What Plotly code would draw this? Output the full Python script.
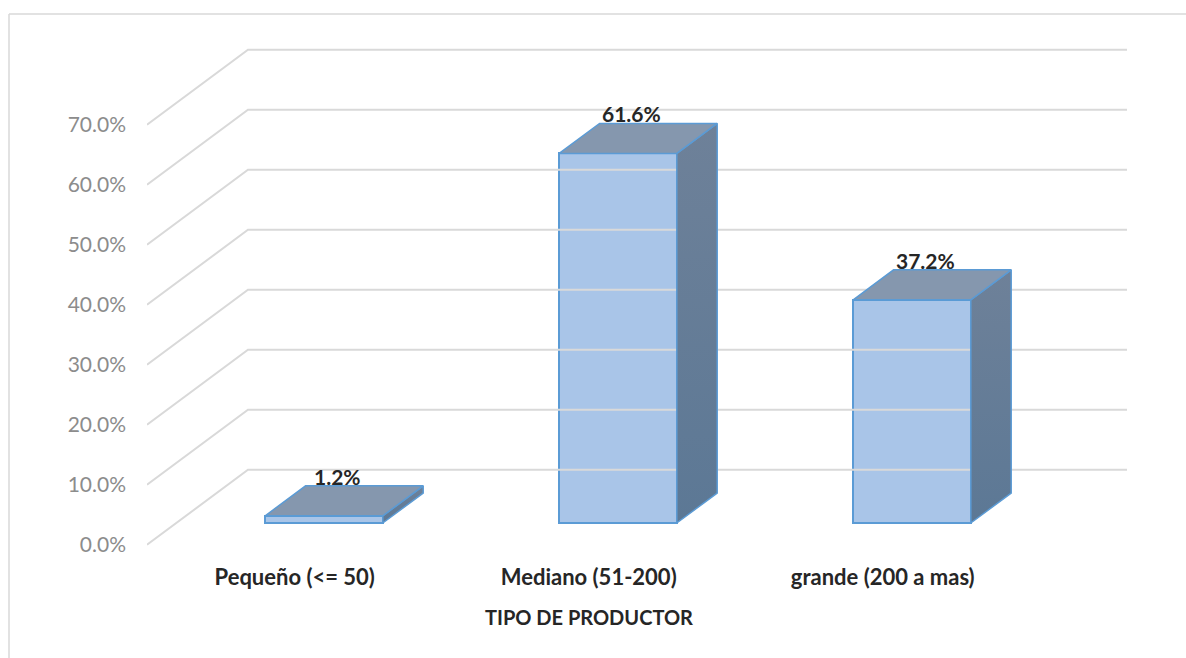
import plotly.graph_objects as go

# ---- data ----
categories = ["Pequeño (<= 50)", "Mediano (51-200)", "grande (200 a mas)"]
values = [1.2, 61.6, 37.2]
y_ticks = [0, 10, 20, 30, 40, 50, 60, 70]
y_tick_labels = ["0.0%", "10.0%", "20.0%", "30.0%", "40.0%", "50.0%", "60.0%", "70.0%"]
x_title = "TIPO DE PRODUCTOR"

# ---- geometry (pseudo-3D) ----
W, H = 1186, 658
L, R, T, B = 147, 1127, 40, 560
PX_X = 294.0          # pixels per category
PX_Y = 6.0            # pixels per percent
BAR_X0_PX = 324.0     # pixel of category 0 on bar plane
BASE_PX = 523.0       # pixel of 0 % on bar plane
xmin = (L - BAR_X0_PX) / PX_X
xmax = (R - BAR_X0_PX) / PX_X
ymax = (BASE_PX - T) / PX_Y
ymin = (BASE_PX - B) / PX_Y

# full floor depth vector (front -> back) in data units
DEP_X = 101.0 / PX_X
DEP_Y = 75.0 / PX_Y
D_BAR = 0.29          # bar plane position within the depth
BAR_DEPTH = 0.40      # bar depth as a fraction
BAR_W = 0.40

front_dx, front_dy = -D_BAR * DEP_X, -D_BAR * DEP_Y
back_dx, back_dy = (1 - D_BAR) * DEP_X, (1 - D_BAR) * DEP_Y
bdx, bdy = BAR_DEPTH * DEP_X, BAR_DEPTH * DEP_Y

FONT = "Lato, Open Sans, sans-serif"

fig = go.Figure()

# gridlines: front-left -> back-left -> back-right
gx, gy = [], []
for v in y_ticks:
    gx += [xmin, xmin + DEP_X, xmax, None]
    gy += [v + front_dy, v + back_dy, v + back_dy, None]
fig.add_trace(go.Scatter(x=gx, y=gy, mode="lines", line=dict(color="#D9D9D9", width=2),
                         hoverinfo="skip", showlegend=False))

edge = "#5B9BD5"
# front faces
fig.add_trace(go.Bar(x=list(range(len(values))), y=values, width=BAR_W,
                     marker=dict(color="#A9C5E8", line=dict(color=edge, width=2)),
                     showlegend=False, hoverinfo="skip"))

# side + top faces
for i, v in enumerate(values):
    xl, xr = i - BAR_W / 2, i + BAR_W / 2
    fig.add_trace(go.Scatter(
        x=[xr, xr, xr + bdx, xr + bdx, xr], y=[0, v, v + bdy, bdy, 0],
        mode="lines", fill="toself", line=dict(color=edge, width=1.5),
        fillgradient=dict(type="vertical", colorscale=[[0, "#5C7895"], [1, "#6E8199"]]),
        hoverinfo="skip", showlegend=False))
    fig.add_trace(go.Scatter(
        x=[xl, xr, xr + bdx, xl + bdx, xl], y=[v, v, v + bdy, v + bdy, v],
        mode="lines", fill="toself", fillcolor="#8597AE", line=dict(color=edge, width=1.5),
        hoverinfo="skip", showlegend=False))
    fig.add_annotation(x=i + 0.045, y=v + 6.6, text="<b>%.1f%%</b>" % v, showarrow=False,
                       font=dict(family=FONT, size=21, color="#262626"))

# axis title (centred under the middle category, as in the original)
fig.add_annotation(x=1 + front_dx, xref="x", y=(B - 617) / (B - T), yref="paper",
                   yanchor="middle", xanchor="center",
                   text="<b>" + x_title + "</b>", showarrow=False,
                   font=dict(family=FONT, size=20, color="#262626"))

fig.update_layout(
    width=W, height=H, autosize=False,
    margin=dict(l=L, r=W - R, t=T, b=H - B),
    paper_bgcolor="white", plot_bgcolor="white",
    bargap=0,
    xaxis=dict(range=[xmin, xmax], showgrid=False, zeroline=False, showline=False,
               tickvals=[i + front_dx for i in range(len(categories))], ticktext=categories,
               tickfont=dict(family=FONT, size=22, color="#262626", weight="bold"),
               ticks="", ticklabelstandoff=2),
    yaxis=dict(range=[ymin, ymax], showgrid=False, zeroline=False, showline=False,
               tickvals=[v + front_dy for v in y_ticks], ticktext=y_tick_labels,
               tickfont=dict(family=FONT, size=21, color="#8C8C8C"),
               ticks="", ticklabelstandoff=20),
    shapes=[
        dict(type="line", xref="paper", yref="paper",
             x0=(9 - L) / (R - L), x1=(W - L) / (R - L),
             y0=(B - 14) / (B - T), y1=(B - 14) / (B - T),
             line=dict(color="#D9D9D9", width=1.5)),
        dict(type="line", xref="paper", yref="paper",
             x0=(9 - L) / (R - L), x1=(9 - L) / (R - L),
             y0=(B - 14) / (B - T), y1=(B - H) / (B - T),
             line=dict(color="#D9D9D9", width=1.5)),
    ],
)

fig.write_html("out.html")
